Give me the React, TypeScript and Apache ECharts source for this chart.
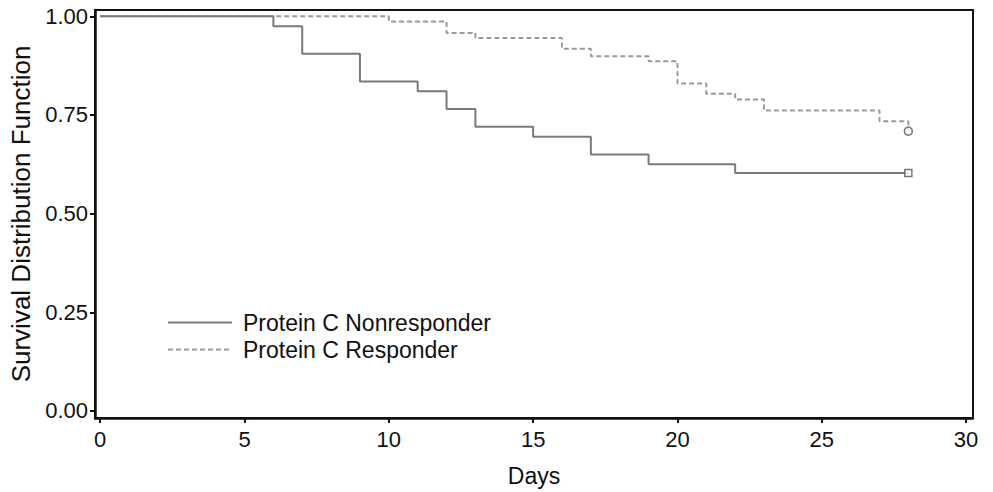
import React, { useEffect, useRef } from "react";
import * as echarts from "echarts";

const xTicks = [0, 5, 10, 15, 20, 25, 30];
const yTicks = [0, 0.25, 0.5, 0.75, 1];

const nonDays = [0, 6, 7, 9, 11, 12, 13, 15, 17, 19, 22, 28];
const nonSurv = [1, 0.975, 0.905, 0.835, 0.81, 0.765, 0.72, 0.695, 0.65, 0.625, 0.603, 0.603];

const resDays = [0, 10, 12, 13, 16, 17, 19, 20, 21, 22, 23, 27, 28];
const resSurv = [1, 0.987, 0.958, 0.945, 0.918, 0.899, 0.886, 0.83, 0.804, 0.789, 0.761, 0.734, 0.709];

const censorNon = [[28, 0.603]];
const censorRes = [[28, 0.709]];

const FONT = "Liberation Sans, Arial, Helvetica, sans-serif";

export default function App() {
  const ref = useRef<HTMLDivElement>(null);
  useEffect(() => {
    const chart = echarts.init(ref.current!, null, { renderer: "svg" });
    chart.setOption({
      animation: false,
      backgroundColor: "#ffffff",
      textStyle: { fontFamily: FONT },
      grid: {
        left: 95,
        right: 20,
        top: 10,
        bottom: 73,
        show: true,
        borderColor: "#111",
        borderWidth: 2,
        backgroundColor: "transparent",
      },
      legend: {
        orient: "vertical",
        left: 167,
        top: 311,
        padding: 0,
        itemWidth: 64,
        itemHeight: 14,
        itemGap: 4,
        data: ["Protein C Nonresponder", "Protein C Responder"],
        itemStyle: { opacity: 0 },
        textStyle: { fontSize: 23, color: "#111", fontFamily: FONT, padding: [0, 0, 0, 6] },
      },
      xAxis: {
        type: "value",
        min: -0.18,
        max: 30.24,
        name: "Days",
        nameLocation: "middle",
        nameGap: 46,
        nameTextStyle: { fontSize: 23, color: "#111", fontFamily: FONT },
        splitLine: { show: false },
        axisLine: { show: true, onZero: false, lineStyle: { color: "#111", width: 2.5 } },
        axisTick: { show: true, length: 5, customValues: xTicks, lineStyle: { color: "#111", width: 2 } },
        axisLabel: { customValues: xTicks, fontSize: 22, color: "#111", margin: 10, fontFamily: FONT },
      },
      yAxis: {
        type: "value",
        min: -0.018,
        max: 1.016,
        name: "Survival Distribution Function",
        nameLocation: "middle",
        nameGap: 61,
        nameTextStyle: { fontSize: 26, color: "#111", fontFamily: FONT },
        splitLine: { show: false },
        axisLine: { show: true, onZero: false, lineStyle: { color: "#111", width: 2.5 } },
        axisTick: { show: true, length: 5, customValues: yTicks, lineStyle: { color: "#111", width: 2 } },
        axisLabel: {
          customValues: yTicks,
          fontSize: 22,
          color: "#111",
          margin: 7,
          fontFamily: FONT,
          formatter: (v: number) => v.toFixed(2),
        },
      },
      series: [
        {
          name: "Protein C Nonresponder",
          type: "line",
          step: "end",
          symbol: "none",
          data: nonDays.map((d, i) => [d, nonSurv[i]]),
          lineStyle: { color: "#7a7a7a", width: 2, type: "solid" },
          itemStyle: { color: "#555" },
          z: 3,
        },
        {
          name: "Protein C Responder",
          type: "line",
          step: "end",
          symbol: "none",
          data: resDays.map((d, i) => [d, resSurv[i]]),
          lineStyle: { color: "#9a9a9a", width: 2, type: [5, 3] },
          itemStyle: { color: "#777" },
          z: 2,
        },
        {
          name: "censor-non",
          type: "scatter",
          symbol: "rect",
          symbolSize: 7,
          data: censorNon,
          itemStyle: { color: "#fff", borderColor: "#555", borderWidth: 1.5 },
          z: 4,
        },
        {
          name: "censor-res",
          type: "scatter",
          symbol: "circle",
          symbolSize: 8,
          data: censorRes,
          itemStyle: { color: "#fff", borderColor: "#555", borderWidth: 1.5 },
          z: 4,
        },
      ],
    });
    return () => chart.dispose();
  }, []);
  return (
    <div
      ref={ref}
      style={{ position: "fixed", left: 0, top: 0, width: 993, height: 492 }}
    />
  );
}
